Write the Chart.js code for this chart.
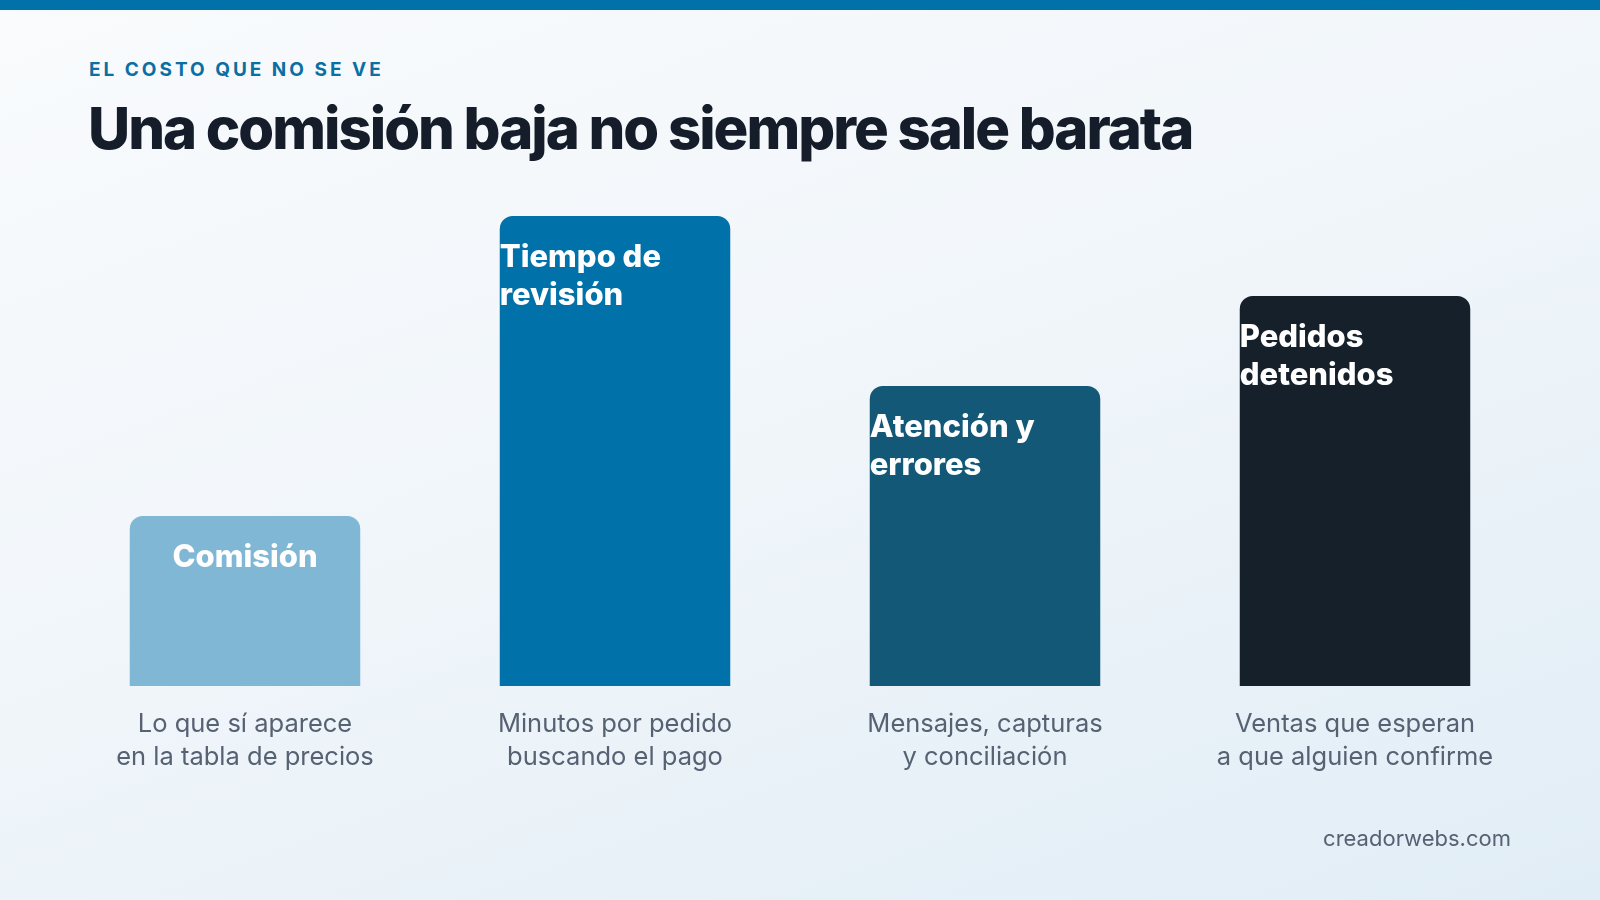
<!DOCTYPE html>
<html lang="es">
<head>
<meta charset="utf-8">
<script src="https://cdn.jsdelivr.net/npm/chart.js@4.4.1/dist/chart.umd.min.js"></script>
<style>
  html, body { margin: 0; padding: 0; }
  body {
    width: 1600px; height: 900px; position: relative; overflow: hidden;
    background: linear-gradient(160deg, #f9fbfd 0%, #f1f6fa 45%, #e1edf6 100%);
    font-family: Inter, "Noto Sans", sans-serif;
  }
  .topbar { position: absolute; left: 0; top: 0; width: 1600px; height: 10px; background: #0071a9; }
  .kicker {
    position: absolute; left: 89px; top: 58px; margin: 0;
    font-size: 19px; font-weight: 700; letter-spacing: 3px; color: #0a6fa3;
  }
  .title {
    position: absolute; left: 88px; top: 93px; margin: 0;
    font-size: 58px; font-weight: 800; letter-spacing: -2px; color: #141d29;
  }
  .footer {
    position: absolute; right: 89px; top: 825px; margin: 0;
    font-size: 22px; color: #566273;
  }
  #chart { position: absolute; left: 0; top: 150px; }
</style>
</head>
<body>
<div class="topbar"></div>
<p class="kicker">EL COSTO QUE NO SE VE</p>
<h1 class="title">Una comisión baja no siempre sale barata</h1>
<canvas id="chart" width="1600" height="700"></canvas>
<p class="footer">creadorwebs.com</p>

<script>
const barNames = [['Comisión'], ['Tiempo de', 'revisión'], ['Atención y', 'errores'], ['Pedidos', 'detenidos']];
const captions = [
    ['Lo que sí aparece', 'en la tabla de precios'],
    ['Minutos por pedido', 'buscando el pago'],
    ['Mensajes, capturas', 'y conciliación'],
    ['Ventas que esperan', 'a que alguien confirme']
];
const costValues = [17, 47, 30, 39];
const barColors = ['#80b7d5', '#0071a9', '#145878', '#16202b'];

const innerLabels = {
    id: 'innerLabels',
    afterDatasetsDraw(chart) {
        const ctx = chart.ctx;
        const meta = chart.getDatasetMeta(0);
        ctx.save();
        ctx.fillStyle = '#ffffff';
        ctx.font = '800 31px Inter, sans-serif';
        ctx.textBaseline = 'alphabetic';
        meta.data.forEach((bar, i) => {
            const lines = barNames[i];
            const left = bar.x - bar.width / 2;
            lines.forEach((line, j) => {
                const y = bar.y + 51 + j * 38;
                if (lines.length === 1) {
                    ctx.textAlign = 'center';
                    ctx.fillText(line, bar.x, y);
                } else {
                    ctx.textAlign = 'left';
                    ctx.fillText(line, left, y);
                }
            });
        });
        ctx.restore();
    }
};

new Chart(document.getElementById('chart'), {
    type: 'bar',
    data: {
        labels: captions,
        datasets: [{
            data: costValues,
            backgroundColor: barColors,
            borderRadius: { topLeft: 13, topRight: 13 },
            borderSkipped: 'start',
            barPercentage: 0.623,
            categoryPercentage: 1
        }]
    },
    options: {
        responsive: false,
        animation: false,
        layout: { padding: { left: 60, right: 60, top: 36, bottom: 0 } },
        plugins: {
            legend: { display: false },
            tooltip: { enabled: false }
        },
        scales: {
            x: {
                grid: { display: false },
                border: { display: false },
                afterFit: (scale) => { scale.height = 164; },
                ticks: {
                    color: '#566273',
                    padding: 14,
                    font: { family: 'Inter', size: 25.5, lineHeight: 1.3 }
                }
            },
            y: {
                display: false,
                min: 0,
                max: 50
            }
        }
    },
    plugins: [innerLabels]
});
</script>
</body>
</html>
